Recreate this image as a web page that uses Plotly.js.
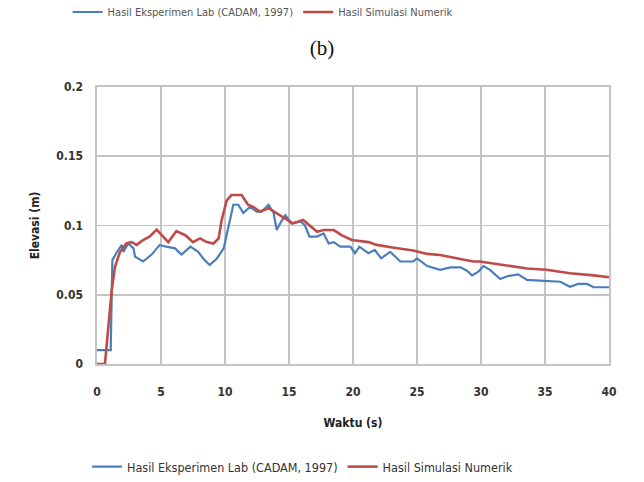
<!DOCTYPE html>
<html>
<head>
<meta charset="utf-8">
<script src="https://cdn.plot.ly/plotly-3.0.1.min.js"></script>
<style>html,body{margin:0;padding:0;background:#fff;}#chart{width:644px;height:482px;}</style>
</head>
<body>
<div id="chart"></div>
<script>
// Experiment (CADAM, 1997)
const labTime = [0,1.07,1.2,1.5,1.93,2.05,2.45,2.85,2.97,3.6,4.27,4.9,5.4,6.1,6.6,7.3,7.9,8.4,8.8,9.35,9.9,10.26,10.65,11.04,11.43,11.95,12.48,12.87,13.4,13.8,14.04,14.4,14.7,15.2,15.9,16.25,16.6,17.2,17.7,18.1,18.5,19.0,19.8,20.15,20.5,21.2,21.7,22.2,22.9,23.7,24.7,25.0,25.8,26.8,27.6,28.4,28.9,29.3,29.8,30.2,30.7,31.5,32.1,32.9,33.6,34.6,35.7,36.2,36.95,37.6,38.3,38.8,40];
const labElev = [0.01,0.01,0.075,0.08,0.086,0.081,0.087,0.0835,0.0775,0.074,0.079,0.086,0.0847,0.0835,0.079,0.0847,0.081,0.075,0.0715,0.076,0.0835,0.099,0.115,0.115,0.109,0.1135,0.11,0.11,0.115,0.109,0.0967,0.103,0.1075,0.1015,0.103,0.1,0.092,0.092,0.0943,0.087,0.088,0.0847,0.0847,0.08,0.0847,0.08,0.0823,0.0763,0.081,0.074,0.074,0.0763,0.0707,0.068,0.0698,0.0698,0.0674,0.064,0.0667,0.0707,0.068,0.0614,0.0635,0.0647,0.0607,0.0602,0.0594,0.0594,0.0558,0.0578,0.0578,0.0554,0.0554];
// Numerical simulation
const simTime = [0,0.62,1.15,1.4,1.8,2.3,2.7,3.1,3.6,4.1,4.66,5.05,5.57,6.2,6.9,7.5,8.05,8.57,9.1,9.5,9.74,10.13,10.5,11.3,11.8,12.2,12.7,13.4,14.0,14.8,15.3,16.1,16.6,17.2,17.7,18.5,19.1,19.9,21.2,21.85,23.2,24.7,25.8,26.8,28.1,29.4,29.9,31.7,33.6,35.1,36.95,38.8,40];
const simElev = [0,0,0.053,0.07,0.081,0.087,0.088,0.086,0.0895,0.092,0.097,0.093,0.088,0.096,0.093,0.088,0.0907,0.088,0.087,0.0907,0.104,0.118,0.122,0.122,0.115,0.1135,0.11,0.1125,0.109,0.104,0.1015,0.104,0.1,0.0955,0.0967,0.0967,0.093,0.0895,0.088,0.086,0.084,0.082,0.0795,0.0787,0.0763,0.074,0.074,0.0715,0.069,0.068,0.0655,0.064,0.0626];

const seriesNames = ["Hasil Eksperimen Lab (CADAM, 1997)", "Hasil Simulasi Numerik"];
const xTicks = [0,5,10,15,20,25,30,35,40];
const yTicks = [0,0.05,0.1,0.15,0.2];
const yTickText = ["0","0.05","0.1","0.15","0.2"];

const blue = "#4a7ebb", red = "#be4b48";
const fam = "DejaVu Sans Condensed, Liberation Sans Narrow, sans-serif";

const traces = [
  {x: labTime, y: labElev, name: seriesNames[0], mode: "lines", line: {color: blue, width: 2.2}, legend: "legend"},
  {x: simTime, y: simElev, name: seriesNames[1], mode: "lines", line: {color: red, width: 2.6}, legend: "legend"},
  {x: [null], y: [null], name: seriesNames[0], mode: "lines", line: {color: blue, width: 2.2}, legend: "legend2", hoverinfo: "skip"},
  {x: [null], y: [null], name: seriesNames[1], mode: "lines", line: {color: red, width: 2.6}, legend: "legend2", hoverinfo: "skip"}
];

const tickFont = {family: fam, size: 12, color: "#333", weight: "bold"};

const layout = {
  width: 644, height: 482,
  margin: {l: 97, r: 35, t: 87, b: 118},
  paper_bgcolor: "#fff", plot_bgcolor: "#fff",
  showlegend: true,
  title: {text: "(b)", x: 0.5, xanchor: "center", y: 1 - 48/482, yanchor: "middle", yref: "container",
          font: {family: "Liberation Serif, Times New Roman, serif", size: 21, color: "#111"}},
  xaxis: {range: [0, 40], tickvals: xTicks, ticktext: xTicks.map(String), showgrid: true, gridcolor: "#c4c4c4", gridwidth: 1.6,
          showline: true, linecolor: "#c4c4c4", linewidth: 1.6, mirror: true, zeroline: false, ticks: "",
          tickfont: tickFont, ticklabelstandoff: 16,
          title: {text: "<b>Waktu (s)</b>", font: {family: fam, size: 12, color: "#222"}, standoff: 20}},
  yaxis: {range: [0, 0.2], tickvals: yTicks, ticktext: yTickText, showgrid: true, gridcolor: "#c4c4c4", gridwidth: 1.6,
          showline: true, linecolor: "#c4c4c4", linewidth: 1.6, mirror: true, zeroline: false, ticks: "",
          tickfont: tickFont, ticklabelstandoff: 10,
          title: {text: "<b>Elevasi (m)</b>", font: {family: fam, size: 12, color: "#222"}, standoff: 14}},
  legend: {orientation: "h", xref: "container", yref: "container", x: 0.105, y: 1 - 12/482, xanchor: "left", yanchor: "middle",
           font: {family: fam, size: 11, color: "#555"}, bgcolor: "rgba(0,0,0,0)", itemwidth: 30},
  legend2: {orientation: "h", xref: "container", yref: "container", x: 0.135, y: 1 - 467/482, xanchor: "left", yanchor: "middle",
           font: {family: fam, size: 12.5, color: "#333"}, bgcolor: "rgba(0,0,0,0)", itemwidth: 30}
};

Plotly.newPlot("chart", traces, layout, {displayModeBar: false, staticPlot: true});
</script>
</body>
</html>
